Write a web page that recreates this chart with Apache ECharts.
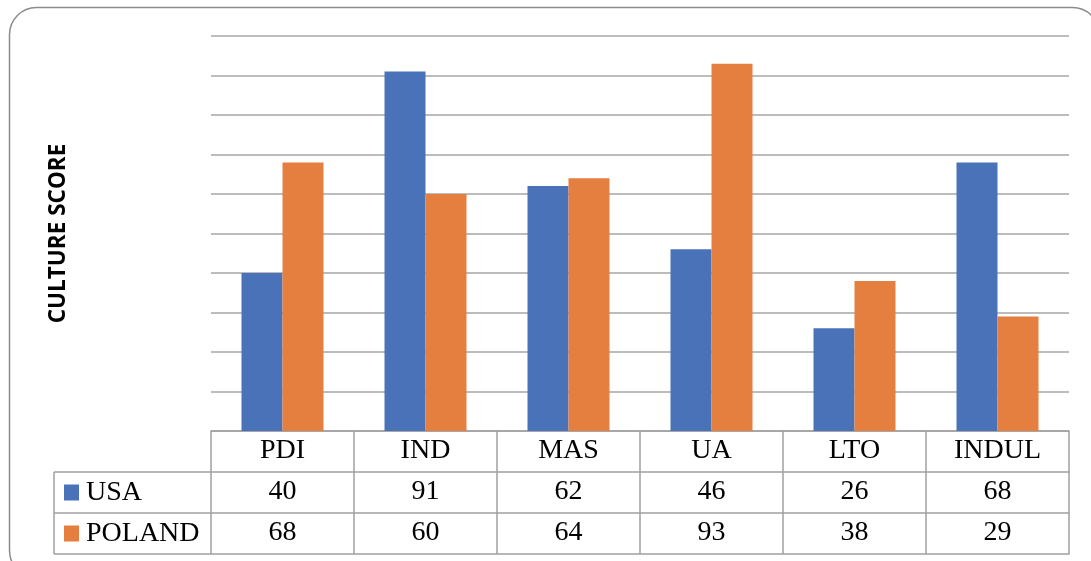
<!DOCTYPE html>
<html>
<head>
<meta charset="utf-8">
<script src="https://cdn.jsdelivr.net/npm/echarts@6/dist/echarts.min.js"></script>
<style>html,body{margin:0;padding:0;background:#fff}#c{width:1091px;height:561px}</style>
</head>
<body>
<div id="c"></div>
<script>
var categories = ['PDI', 'IND', 'MAS', 'UA', 'LTO', 'INDUL'];
var seriesNames = ['USA', 'POLAND'];
var usa = [40, 91, 62, 46, 26, 68];
var poland = [68, 60, 64, 93, 38, 29];
var yTitle = 'CULTURE SCORE';

var chart = echarts.init(document.getElementById('c'));
var serif = '"Liberation Serif", "Times New Roman", serif';
var lineCol = '#a0a0a0';
var G = {left: 211, right: 22, top: 36, bottom: 130};
var rowH = 41;

function rowAxis(offset, values) {
  return {
    type: 'category', data: categories, position: 'bottom', offset: offset,
    axisLine: {show: true, lineStyle: {color: lineCol, width: 1.5}},
    axisTick: {show: false},
    axisLabel: {
      show: !!values, margin: 20, verticalAlign: 'middle',
      fontFamily: serif, fontSize: 28, color: '#000',
      formatter: function (v, i) { return values ? String(values[i]) : ''; }
    }
  };
}

var H = 561, W = 1091;
var tableTop = H - G.bottom;
var graphics = [
  {type: 'rect', shape: {x: 9.5, y: 7.5, width: 1090, height: 570, r: 27},
   style: {fill: null, stroke: '#8c8c8c', lineWidth: 1.5}, silent: true, z: -1}
];
for (var k = 1; k <= 3; k++) {
  graphics.push({type: 'line', shape: {x1: 54, y1: tableTop + k * rowH, x2: G.left, y2: tableTop + k * rowH},
    style: {stroke: lineCol, lineWidth: 1.5}, silent: true});
}
graphics.push({type: 'line', shape: {x1: 54, y1: tableTop + rowH, x2: 54, y2: tableTop + 3 * rowH},
  style: {stroke: lineCol, lineWidth: 1.5}, silent: true});

function rowLegend(name, k) {
  return {
    orient: 'horizontal', left: 64, top: tableTop + k * rowH, itemGap: 0,
    itemWidth: 15, itemHeight: 16, icon: 'rect', selectedMode: false,
    padding: 0,
    data: [name],
    textStyle: {fontFamily: serif, fontSize: 28, color: '#000', lineHeight: rowH, padding: [0, 0, 0, 2]}
  };
}

chart.setOption({
  animation: false,
  backgroundColor: '#fff',
  color: ['#4a72b8', '#e57f40'],
  grid: {left: G.left, right: G.right, top: G.top, bottom: G.bottom, containLabel: false},
  legend: [rowLegend(seriesNames[0], 1), rowLegend(seriesNames[1], 2)],
  xAxis: [
    {
      type: 'category', data: categories, position: 'bottom',
      axisLine: {show: true, lineStyle: {color: lineCol, width: 1.5}},
      axisTick: {show: true, length: rowH * 3, lineStyle: {color: lineCol, width: 1.5}},
      axisLabel: {margin: 20, verticalAlign: 'middle', fontFamily: serif, fontSize: 28, color: '#000'}
    },
    rowAxis(rowH, usa),
    rowAxis(rowH * 2, poland),
    rowAxis(rowH * 3, null)
  ],
  yAxis: {
    type: 'value', min: 0, max: 100, interval: 10,
    name: yTitle, nameLocation: 'middle', nameRotate: 90, nameGap: 141,
    nameTextStyle: {fontFamily: '"Open Sans", sans-serif', fontWeight: 'bold', fontSize: 22.5, color: '#000'},
    axisLine: {show: false}, axisTick: {show: false}, axisLabel: {show: false},
    splitLine: {lineStyle: {color: '#a6a6a6', width: 1.5}}
  },
  series: [
    {name: seriesNames[0], type: 'bar', data: usa, barWidth: 41, barGap: '0%', xAxisIndex: 0},
    {name: seriesNames[1], type: 'bar', data: poland, barWidth: 41, barGap: '0%', xAxisIndex: 0}
  ],
  graphic: graphics
});
</script>
</body>
</html>
